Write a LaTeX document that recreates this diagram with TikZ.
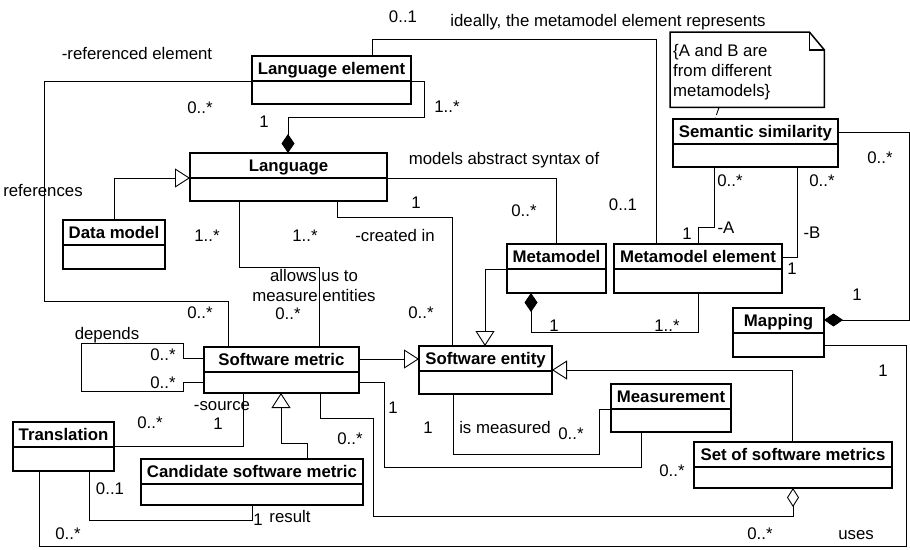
\documentclass[tikz,border=0pt]{standalone}
\usepackage{fontspec}
\setmainfont{Liberation Sans}
\usetikzlibrary{arrows.meta}

\newcommand{\diagfont}{\fontsize{16.8}{20}\selectfont}

\tikzset{
  classbox/.style={draw, line width=1.5pt, anchor=north west, inner sep=0pt, outer sep=0pt},
  classname/.style={anchor=base, inner sep=0pt, font=\diagfont\bfseries},
  lbl/.style={anchor=base, inner sep=0pt, yshift=-6pt, font=\diagfont},
  assoc/.style={line width=0.9pt},
  gen/.style={assoc, -{Triangle[open, fill=white, length=15pt, width=19pt]}},
  comp/.style={assoc, {Diamond[length=19pt, width=13pt]}-},
  aggr/.style={assoc, {Diamond[open, fill=white, length=19pt, width=12pt]}-},
}

% id, x, y (top left), width, height, title
\newcommand{\umlclass}[6]{%
  \node[classbox, minimum width=#4pt, minimum height=#5pt] (#1) at (#2,#3) {};
  \node[classname] (#1-name) at ([yshift=-18.5pt]#1.north) {#6};
  \draw[line width=1.5pt] ([yshift=-25pt]#1.north west) -- ([yshift=-25pt]#1.north east);
}

\begin{document}
\begin{tikzpicture}[x=1pt, y=-1pt]
\useasboundingbox (0,0) rectangle (910,549);

% classes
\umlclass{langel}{252}{56}{159}{48}{Language element}
\umlclass{lang}{190}{153}{197}{48}{Language}
\umlclass{datamodel}{63}{220}{102}{49}{Data model}
\umlclass{semsim}{673}{119}{165}{48}{Semantic similarity}
\umlclass{metamodel}{507}{244}{99}{49}{Metamodel}
\umlclass{mmelement}{614}{244}{168}{49}{Metamodel element}
\umlclass{mapping}{733}{308}{91}{49}{Mapping}
\umlclass{entity}{419}{346}{133}{48}{Software entity}
\umlclass{metric}{204}{347}{155}{46}{Software metric}
\umlclass{translation}{13}{422}{101}{49}{Translation}
\umlclass{candidate}{141}{459}{222}{46}{Candidate software metric}
\umlclass{measurement}{611}{384}{120}{48}{Measurement}
\umlclass{metricset}{694}{442}{198}{46}{Set of software metrics}

% note
\node[anchor=north west, minimum width=154pt, minimum height=75pt, inner sep=0pt] (note) at (670,32) {};
\draw[line width=1.5pt] (note.north west) -- ([xshift=-15pt]note.north east) -- ([yshift=-18pt]note.north east)
  -- (note.south east) -- (note.south west) -- cycle;
\draw[line width=1.5pt] ([xshift=-15pt]note.north east) |- ([yshift=-18pt]note.north east);
\node[lbl, anchor=base west] (note-l1) at (673,50) {\{A and B are};
\node[lbl, anchor=base west] (note-l2) at (673,70) {from different};
\node[lbl, anchor=base west] (note-l3) at (673,90) {metamodels\}};
\draw[assoc, dashed, dash pattern=on 8pt off 3pt] ([xshift=49pt]note.south west) -- ([xshift=42pt]semsim.north west);

% associations
\draw[assoc] ([xshift=120pt]langel.north west) -- ++(0,-17) -| ([xshift=42pt]mmelement.north west);
\draw[assoc] ([yshift=-25pt]langel.north west) -- ++(-208,0) -- ++(0,220) -| ([xshift=24pt]metric.north west);
\draw[comp] ([xshift=98pt]lang.north west) -- ++(0,-36) -- ++(136,0) |- ([yshift=-25pt]langel.north east);
\draw[gen] (datamodel.north) |- ([yshift=-25pt]lang.north west);
\draw[assoc] ([xshift=49pt]lang.south west) -- ++(0,66) -| ([xshift=115pt]metric.north west);
\draw[assoc] ([xshift=147pt]lang.south west) -- ++(0,16) -| ([xshift=33pt]entity.north west);
\draw[assoc] ([yshift=-25pt]lang.north east) -| (metamodel.north);
\draw[gen] ([yshift=-25pt]metamodel.north west) -| ([xshift=66pt]entity.north west);
\draw[comp] ([xshift=24pt]metamodel.south west) -- ++(0,39) -| ([xshift=84pt]mmelement.south west);
\draw[assoc] ([xshift=41pt]semsim.south west) -- ++(0,60) -| ([xshift=84pt]mmelement.north west);
\draw[assoc] ([xshift=124pt]semsim.south west) |- ([yshift=-13pt]mmelement.north east);
\draw[comp] ([yshift=-12pt]mapping.north east) -- ++(85,0) |- ([yshift=-13pt]semsim.north east);
\draw[assoc] ([yshift=-37pt]mapping.north east) -- ++(82,0) -- ++(0,201) -| ([xshift=26pt]translation.south west);
\coordinate (metric-gen) at ([yshift=-12pt]metric.north east);
\draw[gen] (metric-gen) -- (metric-gen -| entity.west);
\draw[assoc] ([yshift=-11pt]metric.north west) -- ++(-21,0) -- ++(0,-15) -- ++(-102,0) -- ++(0,48)
  -- ++(102,0) |- ([yshift=-35pt]metric.north west);
\draw[assoc] ([xshift=39pt]metric.south west) |- ([yshift=-24pt]translation.north east);
\draw[gen] ([xshift=166pt]candidate.north west) -- ++(0,-16) -| ([xshift=77pt]metric.south west);
\draw[assoc] ([xshift=76pt]translation.south west) -- ++(0,49) -| ([xshift=111pt]candidate.south west);
\draw[assoc] ([yshift=-35pt]metric.north east) -- ++(25,0) -- ++(0,85) -| ([xshift=30pt]measurement.south west);
\draw[assoc] ([xshift=34pt]entity.south west) -- ++(0,60) -- ++(146,0) |- ([yshift=-25pt]measurement.north west);
\draw[aggr] ([xshift=99pt]metricset.south west) -- ++(0,28) -- ++(-420,0) -- ++(0,-98) -| ([xshift=116pt]metric.south west);
\draw[gen] ([xshift=98pt]metricset.north west) |- ([yshift=-24pt]entity.north east);

% labels
\node[lbl] at (403,16) {0..1};
\node[lbl] at (608,20) {ideally, the metamodel element represents};
\node[lbl] at (137,53) {-referenced element};
\node[lbl] at (200,107) {0..*};
\node[lbl] at (264,121) {1};
\node[lbl] at (447,106) {1..*};
\node[lbl] at (43,190) {references};
\node[lbl] at (207,235) {1..*};
\node[lbl] at (305,235) {1..*};
\node[lbl] at (395,235) {-created in};
\node[lbl] at (416,202) {1};
\node[lbl] at (504,158) {models abstract syntax of};
\node[lbl] at (524,210) {0..*};
\node[lbl] at (623,204) {0..1};
\node[lbl] at (730,180) {0..*};
\node[lbl] at (726,227) {-A};
\node[lbl] at (687,233) {1};
\node[lbl] at (822,180) {0..*};
\node[lbl] at (812,232) {-B};
\node[lbl] at (792,268) {1};
\node[lbl] at (880,157) {0..*};
\node[lbl] at (857,294) {1};
\node[lbl] at (314,275) {allows us to};
\node[lbl] at (314,295) {measure entities};
\node[lbl] at (288,313) {0..*};
\node[lbl] at (421,312) {0..*};
\node[lbl] at (107,333) {depends};
\node[lbl] at (163,354) {0..*};
\node[lbl] at (163,382) {0..*};
\node[lbl] at (200,312) {0..*};
\node[lbl] at (222,404) {-source};
\node[lbl] at (218,423) {1};
\node[lbl] at (150,422) {0..*};
\node[lbl] at (393,407) {1};
\node[lbl] at (672,470) {0..*};
\node[lbl] at (350,438) {0..*};
\node[lbl] at (760,533) {0..*};
\node[lbl] at (428,427) {1};
\node[lbl] at (505,427) {is measured};
\node[lbl] at (571,433) {0..*};
\node[lbl] at (110,488) {0..1};
\node[lbl] at (258,519) {1};
\node[lbl] at (290,516) {result};
\node[lbl] at (68,533) {0..*};
\node[lbl] at (856,533) {uses};
\node[lbl] at (883,370) {1};
\node[lbl] at (554,325) {1};
\node[lbl] at (667,325) {1..*};
\end{tikzpicture}
\end{document}
